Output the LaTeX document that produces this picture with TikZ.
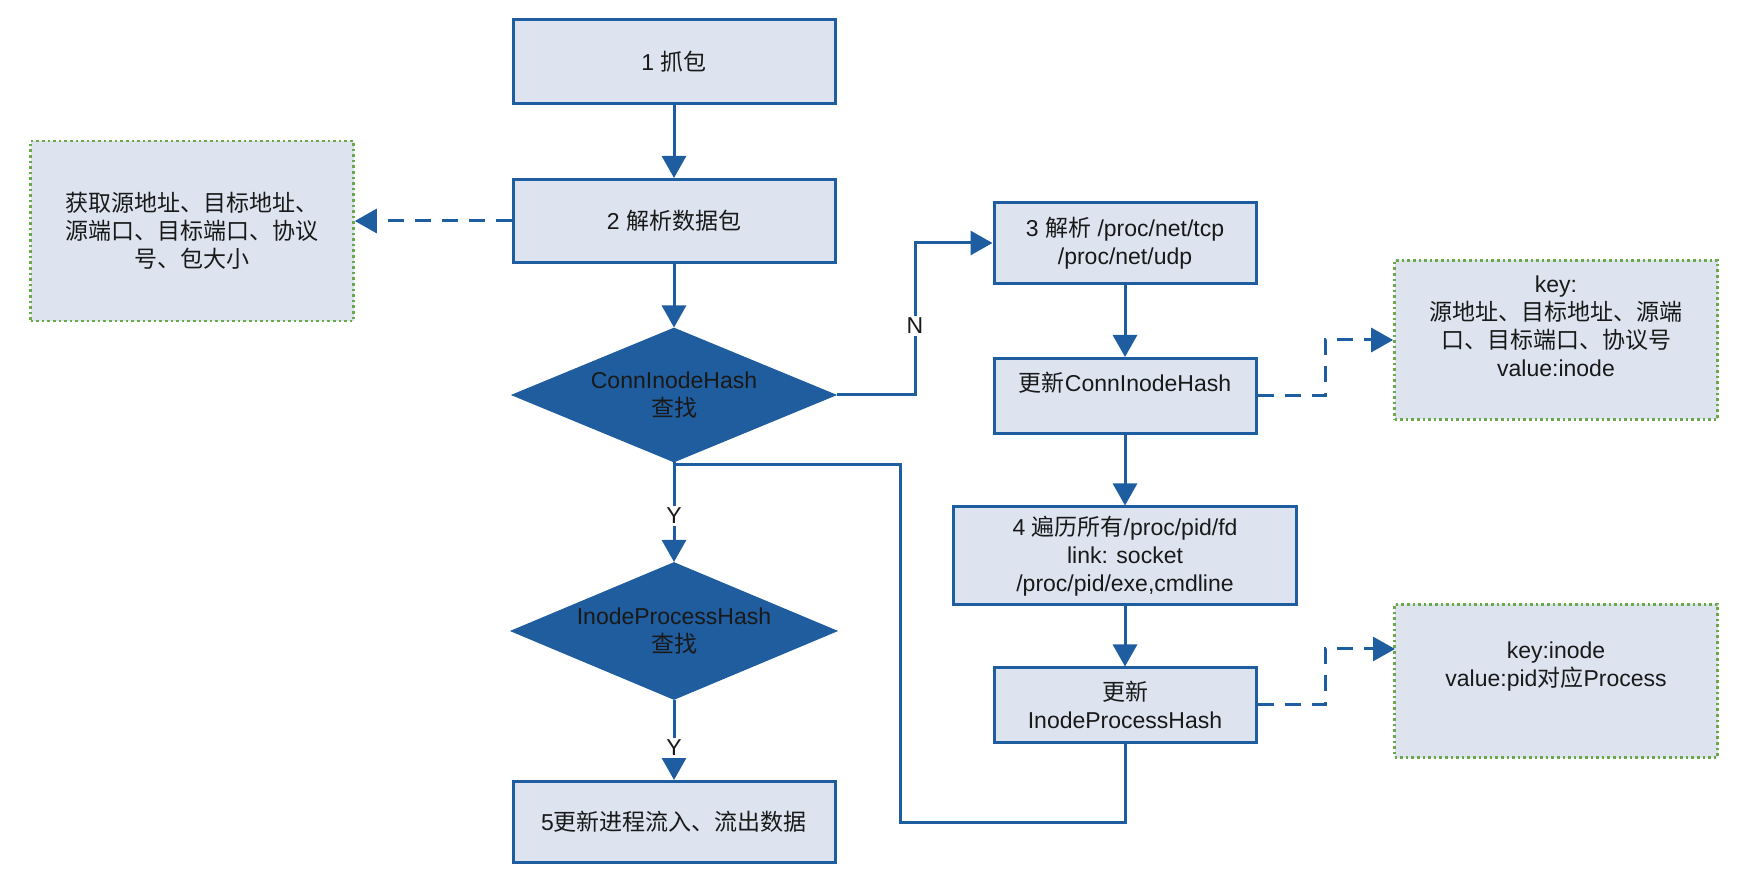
\documentclass[tikz,border=0pt]{standalone}
\usepackage{fontspec}
\setmainfont{Liberation Sans}
\newfontfamily\cjk{Noto Sans CJK SC}
\usetikzlibrary{shapes.geometric,arrows.meta,calc}
\definecolor{bblue}{RGB}{30,94,160}
\definecolor{dfill}{RGB}{31,93,158}
\definecolor{boxfill}{RGB}{221,228,240}
\definecolor{ngreen}{RGB}{106,168,74}
\definecolor{txt}{RGB}{25,25,25}
\newcommand\zh[1]{{\cjk #1}}
\begin{document}
\begin{tikzpicture}[x=0.5pt,y=-0.5pt,
  font={\fontsize{11.5}{14}\selectfont},
  every node/.style={text=txt, align=center},
  proc/.style={draw=bblue, line width=1.5pt, fill=boxfill, inner sep=0pt},
  note/.style={draw=ngreen, line width=1.3pt, dash pattern=on 1.3pt off 1.5pt, fill=boxfill, inner sep=0pt},
  dec/.style={shape=diamond, draw=dfill, fill=dfill, inner sep=0pt, line width=0.5pt},
  arr/.style={draw=bblue, line width=1.5pt, -{Triangle[width=12pt,length=11pt]}},
  darr/.style={arr, dash pattern=on 8pt off 5.5pt},
  plain/.style={draw=bblue, line width=1.5pt},
  lab/.style={fill=white, inner sep=1pt, text=txt}]
\useasboundingbox (0,0) rectangle (1746,876);

% main column
\node[proc, minimum width=161pt, minimum height=42pt] (b1) at (674,62) {1 \zh{抓包}};
\node[proc, minimum width=161pt, minimum height=41.5pt] (b2) at (674,221) {2 \zh{解析数据包}};
\node[note, minimum width=161.5pt, minimum height=90pt] (dl) at (192,231)
  {\zh{获取源地址、目标地址、}\\\zh{源端口、目标端口、协议}\\\zh{号、包大小}};
\node[dec, minimum width=162pt, minimum height=67pt] (d1) at (674,395) {};
\node (d1t) at (d1.center) {ConnInodeHash\\\zh{查找}};
\node[dec, minimum width=163pt, minimum height=68.5pt] (d2) at (674,631) {};
\node (d2t) at (d2.center) {InodeProcessHash\\\zh{查找}};
\node[proc, minimum width=161pt, minimum height=40.5pt] (b5) at (674,822) {5\zh{更新进程流入、流出数据}};

% right column
\node[proc, minimum width=131pt, minimum height=40.5pt] (b3) at (1125,243) {3 \zh{解析} /proc/net/tcp\\/proc/net/udp};
\node[proc, minimum width=131pt, minimum height=37.5pt] (bc) at (1125,396) {};
\node (bct) at (1125,383) {\zh{更新}ConnInodeHash};
\node[proc, minimum width=171.5pt, minimum height=49pt] (b4) at (1125,556) {4 \zh{遍历所有}/proc/pid/fd\\link: socket\\/proc/pid/exe,cmdline};
\node[proc, minimum width=131pt, minimum height=37pt] (bi) at (1125,705) {\zh{更新}\\InodeProcessHash};

% notes on right
\node[note, minimum width=161.5pt, minimum height=79.5pt] (dr1) at (1556,340) {};
\node (dr1t) at (1556,326) {key:\\\zh{源地址、目标地址、源端}\\\zh{口、目标端口、协议号}\\value:inode};
\node[note, minimum width=161.5pt, minimum height=76.5pt] (dr2) at (1556,681) {};
\node (dr2t) at (1556,667) {key:inode\\value:pid\zh{对应}Process};

% helper coordinates
\coordinate (nx) at (915,320);
\coordinate (lp1) at (900,822);
\coordinate (lp2) at (900,465);
\coordinate (c1) at (1325,370);
\coordinate (c2) at (1325,680);
\coordinate (dr2in) at (1395,649);

% connectors
\draw[arr] (b1.south) -- (b2.north);
\draw[darr] (b2.west) -- (b2.west -| dl.east);
\draw[arr] (b2.south) -- (d1.north);
\draw[arr] (d1.east) -| (nx) |- (b3.west);
\node[lab] (nlab) at (915,326) {N};
\draw[arr] (d1.south) -- (d2.north);
\node[lab] (y1) at (674,516) {Y};
\draw[arr] (d2.south) -- (b5.north);
\node[lab] (y2) at (674,748) {Y};
\draw[arr] (b3.south) -- (bc.north);
\draw[arr] (bc.south) -- (b4.north);
\draw[arr] (b4.south) -- (bi.north);
\draw[plain] (bi.south) |- (lp1) -- (lp2) -| (d1.south);
\draw[darr] (bc.east) -| (c1) |- (dr1.west);
\draw[darr] (bi.east) -| (c2) |- (dr2in);
\end{tikzpicture}
\end{document}
